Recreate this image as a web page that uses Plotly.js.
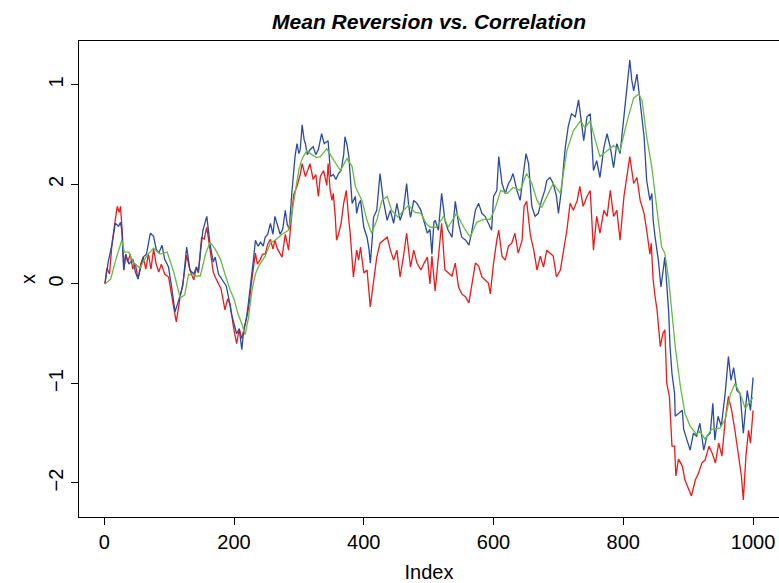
<!DOCTYPE html>
<html>
<head>
<meta charset="utf-8">
<script src="https://cdn.plot.ly/plotly-3.0.1.min.js"></script>
<style>
  html, body { margin: 0; padding: 0; background: #ffffff; }
  #chart { width: 779px; height: 583px; }
</style>
</head>
<body>
<div id="chart"></div>
<script>
// ---- data ----
const titleText = "Mean Reversion vs. Correlation";
const xTitle = "Index";
const yTitle = "x";
const xTickVals = [0, 200, 400, 600, 800, 1000];
const xTickText = ["0", "200", "400", "600", "800", "1000"];
const yTickVals = [-2, -1, 0, 1, 2];
const yTickText = ["\u22122", "\u22121", "0", "2", "1"];

const redIdx = [1,4,8,12,16,20,23,25,28,30,33,36,40,44,48,52,56,60,64,68,72,76,80,84,88,93,99,104,109,111,114,117,121,127,132,138,142,145,150,154,158,163,168,171,176,180,186,190,194,199,204,208,212,215,219,222,228,233,236,240,244,248,252,256,260,263,267,271,274,279,284,289,292,297,302,305,310,314,317,322,326,330,333,338,343,345,348,351,353,356,358,361,365,369,373,377,379,384,389,392,395,400,405,410,415,420,425,430,436,441,446,451,456,461,466,472,477,482,488,493,498,502,505,510,515,520,525,530,536,541,546,551,557,562,566,572,577,582,587,592,595,600,605,608,613,618,623,628,633,638,644,647,651,657,662,667,672,677,682,687,692,697,703,708,713,718,723,729,733,738,744,749,754,759,764,770,775,780,785,790,795,801,806,810,816,821,826,832,836,841,843,846,849,852,857,861,864,867,871,875,879,881,885,891,895,901,905,911,916,921,926,932,937,942,947,952,957,962,967,972,978,982,985,989,993,996,1000];
const redVal = [0.0,0.16,0.1,0.41,0.6,0.78,0.72,0.78,0.5,0.14,0.3,0.22,0.3,0.15,0.2,0.05,0.2,0.27,0.15,0.3,0.15,0.35,0.2,0.12,0.2,0.1,0.07,-0.1,-0.31,-0.38,-0.25,-0.13,0.0,0.29,0.14,0.04,0.17,0.11,0.47,0.45,0.57,0.34,0.12,0.07,0.0,-0.05,-0.26,-0.15,-0.2,-0.43,-0.6,-0.45,-0.55,-0.46,-0.35,-0.26,0.07,0.31,0.2,0.24,0.3,0.3,0.4,0.45,0.35,0.44,0.35,0.3,0.27,0.5,0.34,0.7,0.9,0.98,1.1,1.21,1.08,1.15,1.21,1.05,1.1,0.88,1.08,1.14,0.99,1.21,0.95,0.84,0.91,0.68,0.44,0.5,0.61,0.81,0.94,0.64,0.51,0.07,0.34,0.24,0.37,0.11,0.14,-0.23,0.01,0.27,0.41,0.44,0.47,0.34,0.24,0.34,0.07,0.27,0.51,0.17,0.34,0.21,0.14,0.21,0.27,0.0,0.28,-0.07,0.28,0.61,0.14,0.11,0.08,0.21,-0.03,-0.1,-0.13,-0.19,-0.03,0.21,0.18,0.07,0.04,0.01,-0.1,0.21,0.44,0.54,0.28,0.24,0.38,0.41,0.51,0.31,0.44,0.78,0.83,0.48,0.34,0.14,0.28,0.17,0.34,0.31,0.28,0.07,0.14,0.34,0.54,0.81,0.74,0.84,0.98,0.78,0.88,0.94,0.34,0.68,0.51,0.74,0.68,0.94,0.68,0.74,0.44,0.88,1.11,1.28,1.01,1.07,0.84,0.71,0.54,0.3,0.41,0.04,-0.13,-0.26,-0.63,-0.5,-0.46,-1.0,-1.13,-1.63,-1.63,-1.93,-1.76,-1.83,-1.97,-2.07,-2.13,-1.97,-1.9,-1.8,-1.77,-1.63,-1.7,-1.8,-1.6,-1.73,-1.37,-1.13,-1.27,-1.47,-1.77,-1.93,-2.17,-1.73,-1.47,-1.6,-1.27];

const blueIdx = [1,6,12,17,22,25,27,30,33,38,44,48,52,56,60,65,71,76,80,84,89,93,99,104,109,113,117,121,127,132,138,142,145,148,152,158,163,168,171,176,181,188,192,196,200,204,208,212,215,219,222,226,230,233,237,241,245,248,252,256,260,263,267,271,275,279,282,285,289,292,294,297,300,302,305,308,310,313,317,322,326,330,335,339,345,349,353,357,361,365,369,371,374,377,382,387,389,392,395,400,405,408,410,413,415,420,423,425,428,430,436,441,446,451,456,461,464,466,469,472,477,482,488,493,498,502,505,508,510,515,520,525,530,536,541,546,551,557,562,566,572,577,582,587,592,597,600,605,608,613,618,623,626,630,636,641,646,650,654,659,664,669,674,679,682,687,692,697,700,705,710,715,720,726,731,736,739,744,749,754,759,764,770,775,780,785,790,795,801,806,810,813,816,821,826,832,836,841,844,846,849,854,858,862,864,870,872,875,879,880,885,891,893,898,903,908,913,918,924,929,934,938,941,946,951,957,962,966,970,975,980,985,991,996,1000];
const blueVal = [0.0,0.22,0.4,0.61,0.58,0.62,0.54,0.14,0.3,0.2,0.25,0.12,0.05,0.15,0.27,0.3,0.51,0.48,0.35,0.31,0.39,0.25,0.17,-0.04,-0.28,-0.2,-0.1,-0.02,0.37,0.14,0.1,0.17,0.12,0.3,0.54,0.68,0.4,0.22,0.27,0.1,0.05,-0.02,-0.15,-0.3,-0.4,-0.5,-0.45,-0.66,-0.46,-0.35,-0.2,0.0,0.25,0.44,0.38,0.42,0.38,0.47,0.5,0.61,0.5,0.68,0.58,0.5,0.55,0.74,0.6,0.55,0.91,1.18,1.28,1.41,1.31,1.35,1.6,1.45,1.41,1.3,1.35,1.38,1.3,1.35,1.51,1.41,1.44,1.08,1.1,1.05,1.11,1.14,1.3,1.48,1.4,1.28,0.81,0.88,0.71,0.8,0.84,0.57,0.47,0.35,0.21,0.45,0.67,0.74,0.95,1.11,0.95,0.84,0.64,0.74,0.61,0.81,0.64,0.74,0.9,1.01,0.8,0.67,0.84,0.81,0.74,0.61,0.51,0.55,0.3,0.62,0.64,0.54,0.91,0.64,0.54,0.47,0.83,0.61,0.47,0.44,0.39,0.51,0.74,0.81,0.71,0.68,0.61,0.54,0.88,0.94,1.28,1.01,0.91,1.01,1.04,1.11,0.94,0.84,1.11,1.31,1.21,0.78,0.68,0.71,0.84,0.94,1.04,1.07,1.01,0.88,0.71,0.97,1.34,1.58,1.71,1.68,1.85,1.61,1.44,1.68,1.71,1.14,1.24,1.07,1.37,1.51,1.37,1.17,1.41,1.31,1.68,1.94,2.25,2.05,1.94,2.11,1.81,1.48,1.04,0.84,0.91,0.64,0.47,0.24,-0.03,0.17,0.27,-0.29,-0.63,-0.9,-1.1,-1.33,-1.3,-1.27,-1.46,-1.56,-1.67,-1.5,-1.53,-1.4,-1.67,-1.53,-1.5,-1.2,-1.57,-1.33,-1.43,-1.1,-0.73,-0.97,-0.84,-1.07,-1.1,-1.5,-1.07,-1.27,-0.94];

const greenIdx = [1,10,18,27,31,38,44,55,65,76,86,97,107,117,124,130,138,148,156,163,171,179,186,194,200,206,212,217,222,228,233,238,248,256,265,274,284,289,295,300,305,312,320,327,333,343,354,364,374,382,387,397,405,412,420,428,436,443,453,461,469,479,488,496,502,512,523,530,543,554,564,574,585,595,603,611,621,630,641,651,659,667,674,682,692,703,713,723,734,741,749,757,764,775,785,795,806,816,824,829,836,844,852,859,864,870,875,880,888,895,903,913,918,926,936,949,957,965,972,980,988,996,1000];
const greenVal = [0.0,0.05,0.25,0.44,0.32,0.32,0.22,0.16,0.28,0.36,0.3,0.32,0.12,-0.14,-0.11,0.1,0.08,0.08,0.3,0.42,0.35,0.25,0.1,-0.06,-0.15,-0.3,-0.4,-0.51,-0.35,-0.05,0.1,0.18,0.28,0.41,0.45,0.5,0.54,0.7,0.95,1.15,1.26,1.34,1.3,1.27,1.28,1.36,1.24,1.14,1.26,1.18,0.98,0.84,0.64,0.51,0.64,0.84,0.88,0.74,0.67,0.74,0.79,0.72,0.71,0.61,0.57,0.57,0.68,0.57,0.71,0.57,0.47,0.62,0.65,0.65,0.77,0.94,0.91,0.97,0.94,1.11,1.01,0.84,0.77,0.88,1.01,0.91,1.34,1.54,1.64,1.57,1.64,1.44,1.28,1.34,1.39,1.34,1.64,1.87,1.91,1.84,1.48,1.17,0.74,0.37,0.31,0.04,-0.29,-0.63,-1.03,-1.3,-1.43,-1.51,-1.48,-1.56,-1.46,-1.45,-1.36,-1.11,-1.0,-1.1,-1.25,-1.17,-1.14];

// ---- chart ----
const fontFamily = "'Liberation Sans', Arial, Helvetica, sans-serif";

const traces = [
  { x: redIdx, y: redVal, type: "scatter", mode: "lines",
    line: { color: "#f01818", width: 1.3 }, hoverinfo: "skip" },
  { x: blueIdx, y: blueVal, type: "scatter", mode: "lines",
    line: { color: "#2b4aa3", width: 1.3 }, hoverinfo: "skip" },
  { x: greenIdx, y: greenVal, type: "scatter", mode: "lines",
    line: { color: "#66bb44", width: 1.3 }, hoverinfo: "skip" }
];

const layout = {
  width: 779,
  height: 583,
  margin: { l: 79, r: 0, t: 41, b: 66, pad: 0 },
  paper_bgcolor: "#ffffff",
  plot_bgcolor: "#ffffff",
  showlegend: false,
  font: { family: fontFamily, size: 20, color: "#000000" },
  title: {
    text: "<b><i>" + titleText + "</i></b>",
    font: { family: fontFamily, size: 21, color: "#000000" },
    xref: "paper", x: 0.5, xanchor: "center",
    yref: "container", y: 1 - 22 / 583, yanchor: "middle"
  },
  xaxis: {
    range: [-38.96, 1039.96],
    tickmode: "array",
    tickvals: xTickVals,
    ticktext: xTickText,
    ticks: "outside", ticklen: 7, tickwidth: 1, tickcolor: "#000000",
    showline: true, linecolor: "#000000", linewidth: 1, mirror: true,
    showgrid: false, zeroline: false,
    tickfont: { family: fontFamily, size: 20, color: "#000000" },
    title: { text: xTitle, font: { family: fontFamily, size: 20, color: "#000000" }, standoff: 14 }
  },
  yaxis: {
    range: [-2.342, 2.442],
    tickmode: "array",
    tickvals: yTickVals,
    ticktext: yTickText,
    tickangle: -90,
    ticks: "outside", ticklen: 7, tickwidth: 1, tickcolor: "#000000",
    showline: true, linecolor: "#000000", linewidth: 1, mirror: true,
    showgrid: false, zeroline: false,
    tickfont: { family: fontFamily, size: 20, color: "#000000" },
    title: { text: yTitle, font: { family: fontFamily, size: 20, color: "#000000" }, standoff: 4 }
  }
};

Plotly.newPlot("chart", traces, layout, { displayModeBar: false, staticPlot: true });
</script>
</body>
</html>
